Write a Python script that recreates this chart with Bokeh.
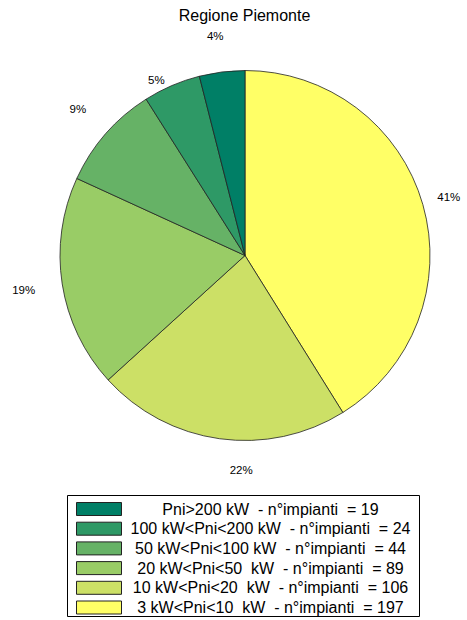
import math
from bokeh.plotting import figure
from bokeh.models import Range1d
from bokeh.core.properties import value
from bokeh.embed import file_html
from bokeh.resources import INLINE

title = "Regione Piemonte"
categories = [
    "3 kW<Pni<10  kW  - n°impianti  = 197",
    "10 kW<Pni<20  kW  - n°impianti  = 106",
    "20 kW<Pni<50  kW  - n°impianti  = 89",
    "50 kW<Pni<100 kW  - n°impianti  = 44",
    "100 kW<Pni<200 kW  - n°impianti  = 24",
    "Pni>200 kW  - n°impianti  = 19",
]
counts = [197, 106, 89, 44, 24, 19]
colors = ["#FFFF66", "#CCE066", "#99CC66", "#66B266", "#2E9966", "#007F66"]

W, H = 467, 620
p = figure(width=W, height=H, output_backend="svg", toolbar_location=None,
           x_range=Range1d(0, W), y_range=Range1d(0, H),
           x_axis_location=None, y_axis_location=None, min_border=0,
           outline_line_color=None)
p.grid.visible = False

def Y(img_y):
    return 620 - img_y

# pie
cx, cy, R = 244.5, Y(255), 185
total = sum(counts)
cum = 0
starts, ends, mids = [], [], []
for c in counts:
    a0 = math.pi / 2 - 2 * math.pi * cum / total
    cum += c
    a1 = math.pi / 2 - 2 * math.pi * cum / total
    starts.append(a0); ends.append(a1); mids.append((a0 + a1) / 2)

p.wedge(x=[cx] * len(counts), y=[cy] * len(counts), radius=R,
        start_angle=starts, end_angle=ends, direction="clock",
        fill_color=colors, line_color="#222222", line_width=0.8)

# percent labels
pct = [f"{round(100 * c / total)}%" for c in counts]
label_r = [212, 215, 224, 222, 197, 222]
label_da = [0.0, 0.12, 0.0, 0.0, 0.06, 0.01]
lx = [cx + r * math.cos(m + d) for r, m, d in zip(label_r, mids, label_da)]
ly = [cy + r * math.sin(m + d) for r, m, d in zip(label_r, mids, label_da)]
p.text(x=lx, y=ly, text=pct, text_align="center", text_baseline="middle",
       text_font=value("Liberation Sans"), text_font_size="11.5px", text_color="black")

# title
p.text(x=[244], y=[Y(15)], text=[title], text_align="center", text_baseline="middle",
       text_font=value("Liberation Sans"), text_font_size="16px", text_color="black")

# legend (drawn in reverse order: darkest on top)
p.quad(left=[67], right=[419], top=[Y(495)], bottom=[Y(616)],
       fill_color="white", line_color="black", line_width=1)
order = list(range(len(counts)))[::-1]
row_y = [Y(508.5 + 19.7 * i) for i in range(len(order))]
p.quad(left=[76] * len(order), right=[121] * len(order),
       top=[y + 6.5 for y in row_y], bottom=[y - 6.5 for y in row_y],
       fill_color=[colors[k] for k in order], line_color="#222222", line_width=1)
p.text(x=[270] * len(order), y=row_y,
       text=[categories[k].replace("  ", "\u00a0 ") for k in order],
       text_align="center", text_baseline="middle",
       text_font=value("Liberation Sans"), text_font_size="16px", text_color="black")

open("out.html", "w").write(file_html(p, INLINE))
